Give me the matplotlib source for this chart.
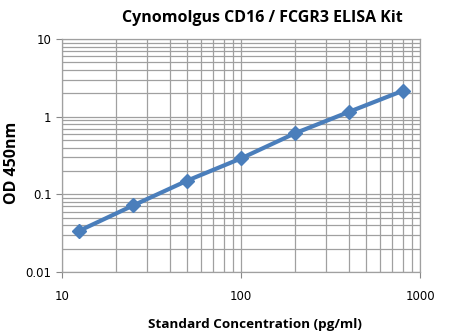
import matplotlib
matplotlib.use("Agg")
import matplotlib.pyplot as plt
from matplotlib.ticker import LogLocator, FixedLocator, NullFormatter

conc = [12.5, 25, 50, 100, 200, 400, 800]
od = [0.034, 0.072, 0.150, 0.290, 0.61, 1.15, 2.15]

x_ticks = [10, 100, 1000]
x_tick_labels = ["10", "100", "1000"]
y_ticks = [0.01, 0.1, 1, 10]
y_tick_labels = ["0.01", "0.1", "1", "10"]

fig = plt.figure(figsize=(4.5, 3.35), dpi=100)
ax = fig.add_axes([0.1378, 0.188, 0.7955, 0.6956])

ax.set_xscale("log")
ax.set_yscale("log")
ax.set_xlim(10, 1000)
ax.set_ylim(0.01, 10)

ax.plot(conc, od, color="#4A7EBB", lw=3, marker="D", markersize=7,
        markerfacecolor="#4A7EBB", markeredgecolor="#4A7EBB", zorder=3)

ax.xaxis.set_major_locator(FixedLocator(x_ticks))
ax.yaxis.set_major_locator(FixedLocator(y_ticks))
ax.set_xticklabels(x_tick_labels)
ax.set_yticklabels(y_tick_labels)
ax.xaxis.set_minor_locator(LogLocator(base=10, subs=range(2, 10)))
ax.yaxis.set_minor_locator(LogLocator(base=10, subs=range(2, 10)))
ax.xaxis.set_minor_formatter(NullFormatter())
ax.yaxis.set_minor_formatter(NullFormatter())

ax.grid(True, which="both", color="#A0A0A0", lw=0.9)
ax.set_axisbelow(True)
ax.tick_params(which="major", length=4, color="#888888", labelsize=8.5, direction="out")
ax.tick_params(which="minor", length=0)
ax.tick_params(axis="x", pad=9)
for s in ax.spines.values():
    s.set_color("#A0A0A0")
    s.set_linewidth(0.9)

ax.set_title("Cynomolgus CD16 / FCGR3 ELISA Kit", fontsize=11.5, fontweight="bold",
             family="Open Sans", pad=12, x=0.56)
ax.set_xlabel("Standard Concentration (pg/ml)", fontsize=9.7, fontweight="bold",
              family="Open Sans", labelpad=11, x=0.54)
ax.set_ylabel("OD 450nm", fontsize=11.5, fontweight="bold", family="Open Sans",
              labelpad=4, y=0.47)

fig.savefig("out.png", dpi=100)
